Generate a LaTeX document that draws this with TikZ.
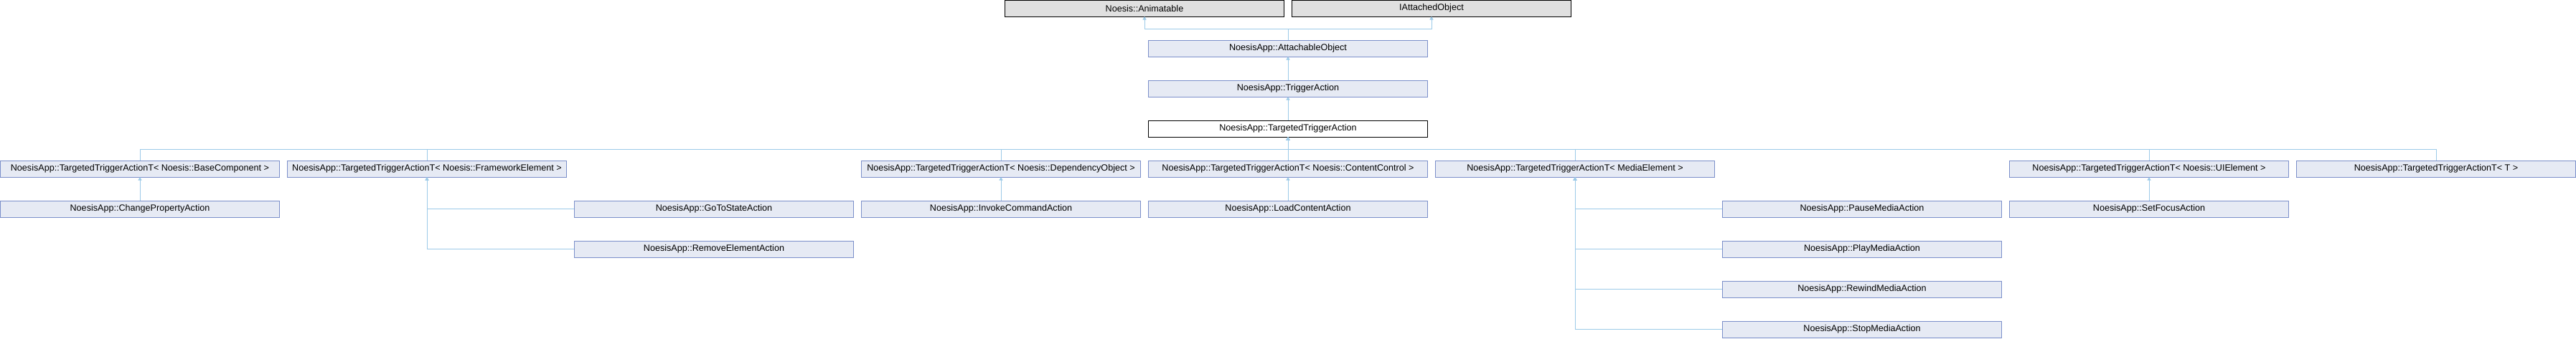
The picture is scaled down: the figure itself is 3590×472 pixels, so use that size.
\documentclass[tikz,border=0pt]{standalone}
\usepackage{xcolor}
\usepackage{fontspec}
\setmainfont{Liberation Sans}
\usepackage{tikz}
\usetikzlibrary{arrows.meta,positioning}

\definecolor{boxfill}{HTML}{E6EAF4}
\definecolor{boxline}{HTML}{7B8FCA}
\definecolor{edgeblue}{HTML}{9CCAE8}
\definecolor{basefill}{HTML}{E0E0E0}

\begin{document}
\begin{tikzpicture}[x=1pt, y=1pt, node distance=33pt and 10.4pt,
    font=\fontsize{12.6}{14}\selectfont,
    cls/.style={rectangle, draw=boxline, fill=boxfill, line width=1pt, minimum width=389.6pt, minimum height=23pt, inner sep=0pt, outer sep=0pt},
    basecls/.style={cls, draw=black, fill=basefill},
    curcls/.style={cls, draw=black, fill=white},
    inh/.style={draw=edgeblue, line width=1pt, -{Triangle[width=5pt,length=4.5pt]}}]
    \useasboundingbox (0,0) rectangle (3590,-472);

    % main chain
    \node (tta) [curcls] at (1795,-179.5) {NoesisApp::TargetedTriggerAction};
    \node (trig) [cls, above=of tta] {NoesisApp::TriggerAction};
    \node (att) [cls, above=of trig] {NoesisApp::AttachableObject};
    \node (anim) [basecls, above=33pt of att.north west, xshift=-5.2pt] {Noesis::Animatable};
    \node (iao) [basecls, above=33pt of att.north east, xshift=5.2pt] {IAttachedObject};

    % TargetedTriggerActionT row
    \node (cc) [cls, below=of tta] {NoesisApp::TargetedTriggerActionT< Noesis::ContentControl >};
    \node (dep) [cls, left=of cc] {NoesisApp::TargetedTriggerActionT< Noesis::DependencyObject >};
    \node (fe) [cls, left=410.4pt of dep] {NoesisApp::TargetedTriggerActionT< Noesis::FrameworkElement >};
    \node (bc) [cls, left=of fe] {NoesisApp::TargetedTriggerActionT< Noesis::BaseComponent >};
    \node (me) [cls, right=of cc] {NoesisApp::TargetedTriggerActionT< MediaElement >};
    \node (ui) [cls, right=410.4pt of me] {NoesisApp::TargetedTriggerActionT< Noesis::UIElement >};
    \node (tt) [cls, right=of ui] {NoesisApp::TargetedTriggerActionT< T >};

    % actions
    \node (cp) [cls, below=of bc] {NoesisApp::ChangePropertyAction};
    \node (ic) [cls, below=of dep] {NoesisApp::InvokeCommandAction};
    \node (gts) [cls, left=of ic] {NoesisApp::GoToStateAction};
    \node (rem) [cls, below=of gts] {NoesisApp::RemoveElementAction};
    \node (lc) [cls, below=of cc] {NoesisApp::LoadContentAction};
    \node (pause) [cls, right=410.4pt of lc] {NoesisApp::PauseMediaAction};
    \node (play) [cls, below=of pause] {NoesisApp::PlayMediaAction};
    \node (rew) [cls, below=of play] {NoesisApp::RewindMediaAction};
    \node (stop) [cls, below=of rew] {NoesisApp::StopMediaAction};
    \node (sf) [cls, below=of ui] {NoesisApp::SetFocusAction};

    \coordinate [above=16pt of att] (split);
    \coordinate [below=17pt of tta] (bus);

    \draw [inh] (att.north) -- (split) -| (anim.south);
    \draw [inh] (split) -| (iao.south);
    \draw [inh] (trig) -- (att);
    \draw [inh] (tta) -- (trig);

    \foreach \c in {bc,fe,dep,cc,me,ui,tt}
        \draw [inh] (\c.north) |- (bus) -- (tta.south);

    \draw [inh] (cp) -- (bc);
    \draw [inh] (gts.west) -| (fe.south);
    \draw [inh] (rem.west) -| (fe.south);
    \draw [inh] (ic) -- (dep);
    \draw [inh] (lc) -- (cc);
    \foreach \a in {pause,play,rew,stop}
        \draw [inh] (\a.west) -| (me.south);
    \draw [inh] (sf) -- (ui);
\end{tikzpicture}
\end{document}
